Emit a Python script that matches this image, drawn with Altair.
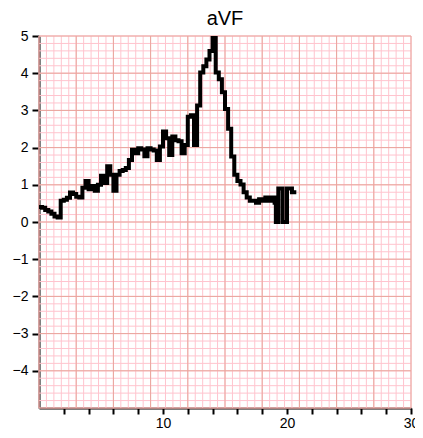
import altair as alt
import numpy as np
import pandas as pd

# ECG lead aVF trace (step samples)
xs = [0.00, 0.25, 0.50, 0.75, 1.00, 1.25, 1.50, 1.75, 2.00, 2.25,
      2.50, 2.75, 3.00, 3.25, 3.50, 3.75, 4.00, 4.25, 4.50, 4.75,
      5.00, 5.25, 5.50, 5.75, 6.00, 6.25, 6.50, 6.75, 7.00, 7.25,
      7.50, 7.75, 8.00, 8.25, 8.50, 8.75, 9.00, 9.25, 9.50, 9.75,
      10.00, 10.25, 10.50, 10.75, 11.00, 11.25, 11.50, 11.75, 12.00, 12.25,
      12.50, 12.75, 13.00, 13.25, 13.50, 13.75, 14.00, 14.25, 14.50, 14.75,
      15.00, 15.25, 15.50, 15.75, 16.00, 16.25, 16.50, 16.75, 17.00, 17.25,
      17.50, 17.75, 18.00, 18.25, 18.50, 18.75, 19.00, 19.10, 19.30, 19.65,
      20.00, 20.40, 20.75]
ys = [0.40, 0.38, 0.32, 0.28, 0.22, 0.15, 0.12, 0.57, 0.60, 0.65,
      0.79, 0.75, 0.68, 0.66, 0.92, 1.10, 0.88, 0.97, 0.84, 1.00,
      1.24, 1.05, 1.50, 1.27, 0.84, 1.27, 1.37, 1.40, 1.45, 1.67,
      1.94, 1.85, 1.98, 1.95, 1.77, 1.98, 1.95, 1.92, 1.67, 2.03,
      2.43, 2.25, 1.80, 2.30, 2.20, 2.17, 1.85, 2.07, 2.83, 2.87,
      2.07, 3.13, 4.02, 4.19, 4.37, 4.60, 5.00, 4.02, 3.84, 3.49,
      3.04, 2.51, 1.76, 1.27, 1.10, 1.01, 0.80, 0.66, 0.57, 0.57,
      0.52, 0.61, 0.57, 0.66, 0.57, 0.66, 0.52, 0.00, 0.90, 0.00,
      0.90, 0.80, 0.80]

title = "aVF"
x_tick_values = list(range(2, 31, 2))
y_tick_values = list(range(-4, 6))

trace = pd.DataFrame({"t": xs, "v": ys})
minor_v = pd.DataFrame({"g": np.round(np.arange(0, 30.001, 0.6), 4)})
major_v = pd.DataFrame({"g": np.arange(0, 31, 3)})
minor_h = pd.DataFrame({"g": np.round(np.arange(-5, 5.001, 0.2), 4)})
major_h = pd.DataFrame({"g": np.arange(-5, 6, 1)})

xscale = alt.Scale(domain=[0, 30], nice=False, zero=False)
yscale = alt.Scale(domain=[-5, 5], nice=False, zero=False)

xaxis = alt.Axis(
    values=x_tick_values, title=None, grid=False,
    labelExpr="datum.value % 10 == 0 ? datum.label : ''",
    domainColor="black", domainWidth=2, tickColor="black", tickWidth=2,
    tickSize=6, labelFontSize=14, labelColor="black", labelPadding=2,
    labelFont="Liberation Sans", labelFlush=False)
yaxis = alt.Axis(
    values=y_tick_values, title=None, grid=False,
    domainColor="black", domainWidth=2, tickColor="black", tickWidth=2,
    tickSize=7, labelFontSize=14, labelColor="black", labelPadding=4,
    labelFont="Liberation Sans")

MINOR = "#FFC4CE"
MAJOR = "#E9A59C"

def vrules(df, color):
    return alt.Chart(df).mark_rule(color=color, strokeWidth=1).encode(
        x=alt.X("g:Q", scale=xscale, axis=xaxis))

def hrules(df, color):
    return alt.Chart(df).mark_rule(color=color, strokeWidth=1).encode(
        y=alt.Y("g:Q", scale=yscale, axis=yaxis))

line = alt.Chart(trace).mark_line(
    interpolate="step-after", color="black", strokeWidth=4, clip=True
).encode(
    x=alt.X("t:Q", scale=xscale, axis=xaxis),
    y=alt.Y("v:Q", scale=yscale, axis=yaxis),
)

chart = alt.layer(
    vrules(minor_v, MINOR), hrules(minor_h, MINOR),
    vrules(major_v, MAJOR), hrules(major_h, MAJOR),
    line,
).properties(
    width=372, height=372,
    title=alt.TitleParams(title, fontSize=20, font="Liberation Sans",
                          fontWeight="normal", color="black", offset=0),
    autosize=alt.AutoSizeParams(type="none"),
    padding={"left": 31, "top": 28, "right": 4, "bottom": 22},
).configure_view(stroke=None)

chart.save("out.html", embed_options={"renderer": "svg", "actions": False})
